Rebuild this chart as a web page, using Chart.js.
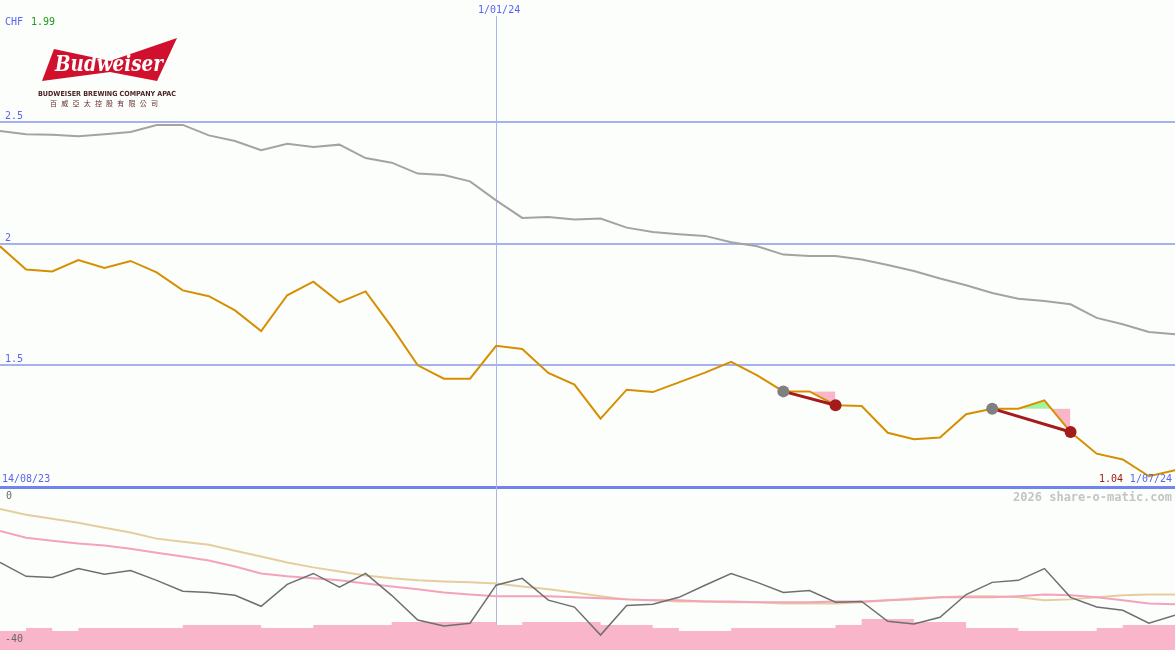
<!DOCTYPE html>
<html>
<head>
<meta charset="utf-8">
<script src="https://cdn.jsdelivr.net/npm/chart.js@4"></script>
<style>
  html, body { margin: 0; padding: 0; background: #fcfefc; }
  #wrap { position: relative; width: 1175px; height: 650px; overflow: hidden; background: #fcfefc; }
  canvas { position: absolute; left: 0; }
  #logo { position: absolute; left: 0; top: 0; }
</style>
</head>
<body>
<div id="wrap">
  <canvas id="priceChart" width="1175" height="489" style="top:0"></canvas>
  <canvas id="lowerChart" width="1175" height="162" style="top:488px"></canvas>
  <svg id="logo" width="200" height="112" xmlns="http://www.w3.org/2000/svg">
    <polygon points="54,49 110,61 177,38 157,81 110,72 42,81" fill="#d0102c"/>
    <text x="109" y="71" text-anchor="middle" font-family="DejaVu Serif" font-style="italic" font-weight="bold" font-size="23" fill="#ffffff" textLength="108" lengthAdjust="spacingAndGlyphs">Budweiser</text>
    <text x="38" y="96" font-family="DejaVu Sans" font-weight="bold" font-size="7" fill="#4a2424" textLength="138" lengthAdjust="spacingAndGlyphs">BUDWEISER BREWING COMPANY APAC</text>
    <text x="50" y="106" font-family="Noto Sans CJK TC" font-size="7" fill="#6a3030" textLength="108" lengthAdjust="spacing">百威亞太控股有限公司</text>
  </svg>
</div>
<script>
// ---------------- DATA ----------------
const weekLabels = ['21/08/23','28/08/23','4/09/23','11/09/23','18/09/23','25/09/23','2/10/23','9/10/23','16/10/23','23/10/23',
  '30/10/23','6/11/23','13/11/23','20/11/23','27/11/23','4/12/23','11/12/23','18/12/23','25/12/23','1/01/24',
  '8/01/24','15/01/24','22/01/24','29/01/24','5/02/24','12/02/24','19/02/24','26/02/24','4/03/24','11/03/24',
  '18/03/24','25/03/24','1/04/24','8/04/24','15/04/24','22/04/24','29/04/24','6/05/24','13/05/24','20/05/24',
  '27/05/24','3/06/24','10/06/24','17/06/24','24/06/24','1/07/24'];

const price = [1.989,1.894,1.886,1.933,1.900,1.929,1.882,1.808,1.784,1.726,
  1.641,1.788,1.844,1.759,1.804,1.658,1.500,1.445,1.445,1.580,
  1.567,1.469,1.421,1.281,1.400,1.390,1.430,1.470,1.514,1.459,
  1.393,1.393,1.336,1.333,1.223,1.196,1.203,1.299,1.322,1.322,
  1.356,1.226,1.137,1.113,1.044,1.069];

const movingAvg = [2.463,2.450,2.448,2.441,2.450,2.459,2.488,2.488,2.445,2.422,
  2.384,2.411,2.397,2.407,2.352,2.333,2.288,2.282,2.256,2.178,
  2.106,2.110,2.099,2.103,2.066,2.048,2.039,2.032,2.006,1.989,
  1.955,1.949,1.949,1.935,1.912,1.888,1.857,1.829,1.797,1.774,
  1.764,1.751,1.695,1.669,1.637,1.628];

const signalStart = [30, 38];
const signalEnd = [32, 41];

const oscillator = [-18.4,-21.8,-22.1,-19.9,-21.3,-20.4,-22.8,-25.5,-25.8,-26.5,
  -29.2,-23.8,-21.1,-24.5,-21.1,-26.5,-32.6,-34.1,-33.4,-24.0,
  -22.3,-27.7,-29.4,-36.3,-29.0,-28.7,-27.0,-24.0,-21.1,-23.3,
  -25.8,-25.3,-28.2,-28.0,-32.9,-33.6,-31.9,-26.3,-23.3,-22.8,
  -19.9,-27.0,-29.4,-30.2,-33.4,-31.4];

const oscSignal = [-10.6,-12.3,-13.0,-13.7,-14.2,-15.0,-16.0,-16.9,-17.9,-19.4,
  -21.1,-21.8,-22.3,-22.8,-23.6,-24.3,-25.0,-25.8,-26.3,-26.7,
  -26.7,-26.7,-27.0,-27.2,-27.5,-27.7,-27.7,-28.0,-28.0,-28.2,
  -28.2,-28.2,-28.0,-28.0,-27.7,-27.5,-27.0,-27.0,-27.0,-26.7,
  -26.3,-26.5,-27.0,-27.7,-28.5,-28.7];

const oscSlow = [-5.2,-6.6,-7.6,-8.6,-9.8,-11.0,-12.5,-13.3,-14.0,-15.5,
  -16.9,-18.4,-19.6,-20.6,-21.6,-22.3,-22.8,-23.1,-23.3,-23.6,
  -24.3,-25.0,-25.8,-26.7,-27.5,-27.7,-28.0,-28.0,-28.2,-28.2,
  -28.5,-28.5,-28.5,-28.2,-27.7,-27.2,-27.0,-26.7,-26.7,-27.0,
  -27.7,-27.5,-27.0,-26.5,-26.3,-26.3];

const volume = [19,22,19,22,22,22,22,25,25,25,
  22,22,25,25,25,28,28,28,28,25,
  28,28,28,25,25,22,19,19,22,22,
  22,22,25,31,31,28,28,22,22,19,
  19,19,22,25,25,25];

const priceTicks = [1, 1.5, 2, 2.5];
const priceTickLabels = ['', '1.5', '2', '2.5'];
const lowerTickLabels = ['0', '-40'];
const periodStartLabel = '14/08/23';
const markedDates = ['1/01/24'];
const currency = 'CHF';
const headlineValue = '1.99';
const lastValueLabel = '1.04';
const creditText = '2026 share-o-matic.com';

// ---------------- STYLE ----------------
const BLUE_TEXT = '#5a64f0';
const GRID = '#a6b2f0';
const BASE = '#7383ec';
const ORANGE = '#d68f00';
const GREY = '#a3a3a3';
const DARKRED = '#a31b1b';
const MONO = '"DejaVu Sans Mono", "Liberation Mono", monospace';

function onlyBetween(arr, s, e) { return arr.map((v, i) => (i >= s && i <= e) ? v : null); }

const datasets = [
  { data: movingAvg, borderColor: GREY, borderWidth: 2, pointRadius: 0, order: 6 },
  { data: price, borderColor: ORANGE, borderWidth: 2, pointRadius: 0, order: 2 }
];
signalStart.forEach((s, k) => {
  const e = signalEnd[k];
  const level = price.map((v, i) => (i >= s && i <= e) ? price[s] : null);
  const levelIndex = datasets.length;
  datasets.push({ data: level, borderWidth: 0, pointRadius: 0, borderColor: 'rgba(0,0,0,0)', order: 5 });
  datasets.push({ data: onlyBetween(price, s, e), borderWidth: 0, pointRadius: 0, borderColor: 'rgba(0,0,0,0)',
    fill: { target: levelIndex, above: '#9ef79e', below: '#f9b5c9' }, order: 4 });
  const sig = price.map((v, i) => (i === s || i === e) ? v : null);
  datasets.push({ data: sig, spanGaps: true, borderColor: DARKRED, borderWidth: 3, order: 1,
    pointRadius: sig.map(v => v === null ? 0 : 6),
    pointBackgroundColor: sig.map((v, i) => i === s ? '#808080' : DARKRED),
    pointBorderWidth: 0, pointHoverRadius: 0 });
});

const idxOf = (lab) => weekLabels.indexOf(lab);

const topPlugin = {
  id: 'topDecor',
  beforeDatasetsDraw(chart) {
    const { ctx, scales: { x, y } } = chart;
    ctx.save();
    priceTicks.forEach(v => {
      const py = Math.round(y.getPixelForValue(v));
      ctx.fillStyle = v === priceTicks[0] ? BASE : GRID;
      ctx.fillRect(0, py - 1, chart.width, v === priceTicks[0] ? 3 : 2);
    });
    markedDates.forEach(d => {
      const px = Math.round(x.getPixelForValue(idxOf(d)));
      ctx.fillStyle = '#aab4e8';
      ctx.fillRect(px, 16, 1, chart.height - 16);
    });
    ctx.restore();
  },
  afterDatasetsDraw(chart) {
    const { ctx, scales: { x, y } } = chart;
    ctx.save();
    ctx.font = '10px ' + MONO;
    ctx.textBaseline = 'alphabetic';
    ctx.fillStyle = BLUE_TEXT;
    ctx.textAlign = 'left';
    ctx.fillText(currency, 5, 25);
    ctx.fillStyle = '#1a9a1a';
    ctx.fillText(headlineValue, 31, 25);
    ctx.fillStyle = BLUE_TEXT;
    priceTicks.forEach((v, i) => {
      if (!priceTickLabels[i]) return;
      ctx.fillText(priceTickLabels[i], 5, Math.round(y.getPixelForValue(v)) - 3);
    });
    const baseY = Math.round(y.getPixelForValue(priceTicks[0])) - 5;
    ctx.fillText(periodStartLabel, 2, baseY);
    markedDates.forEach(d => {
      ctx.textAlign = 'center';
      ctx.fillText(d, x.getPixelForValue(idxOf(d)) + 3, 13);
    });
    ctx.textAlign = 'right';
    const last = weekLabels[weekLabels.length - 1];
    ctx.fillText(last, 1172, baseY);
    ctx.fillStyle = DARKRED;
    ctx.fillText(lastValueLabel, 1123, baseY);
    ctx.restore();
  }
};

new Chart(document.getElementById('priceChart'), {
  type: 'line',
  data: { labels: weekLabels, datasets },
  options: {
    responsive: false, animation: false, events: [],
    layout: { padding: 0 },
    elements: { line: { tension: 0, borderJoinStyle: 'miter' } },
    plugins: { legend: { display: false }, tooltip: { enabled: false } },
    scales: {
      x: { type: 'category', offset: false, display: false },
      y: { display: false, min: 0.9918, max: 3.0014 }
    }
  },
  plugins: [topPlugin]
});

const lowerPlugin = {
  id: 'lowerDecor',
  beforeDatasetsDraw(chart) {
    const { ctx, scales: { x } } = chart;
    ctx.save();
    markedDates.forEach(d => {
      const px = Math.round(x.getPixelForValue(idxOf(d)));
      ctx.fillStyle = '#b4b8d8';
      ctx.fillRect(px, 0, 1, chart.height);
    });
    ctx.restore();
  },
  afterDatasetsDraw(chart) {
    const { ctx } = chart;
    ctx.save();
    ctx.font = '10px ' + MONO;
    ctx.fillStyle = '#666666';
    ctx.textAlign = 'left';
    ctx.fillText(lowerTickLabels[0], 6, 11);
    ctx.fillText(lowerTickLabels[1], 5, 154);
    ctx.font = 'bold 12px ' + MONO;
    ctx.fillStyle = '#c4c4c4';
    ctx.textAlign = 'right';
    ctx.fillText(creditText, 1172, 13);
    ctx.restore();
  }
};

new Chart(document.getElementById('lowerChart'), {
  type: 'line',
  data: {
    labels: weekLabels,
    datasets: [
      { data: oscillator, borderColor: '#6f6f6f', borderWidth: 1.5, pointRadius: 0, order: 1 },
      { data: oscSignal, borderColor: '#f4a3bb', borderWidth: 2, pointRadius: 0, order: 2 },
      { data: oscSlow, borderColor: '#e6cd9e', borderWidth: 2, pointRadius: 0, order: 3 },
      { data: volume, yAxisID: 'yv', stepped: 'before', borderWidth: 0, borderColor: 'rgba(0,0,0,0)',
        backgroundColor: '#f9b5c9', fill: 'start', pointRadius: 0, order: 4 }
    ]
  },
  options: {
    responsive: false, animation: false, events: [],
    layout: { padding: 0 },
    elements: { line: { tension: 0 } },
    plugins: { legend: { display: false }, tooltip: { enabled: false } },
    scales: {
      x: { type: 'category', offset: false, display: false },
      y: { display: false, min: -40, max: 0 },
      yv: { display: false, min: 0, max: 162 }
    }
  },
  plugins: [lowerPlugin]
});
</script>
</body>
</html>
